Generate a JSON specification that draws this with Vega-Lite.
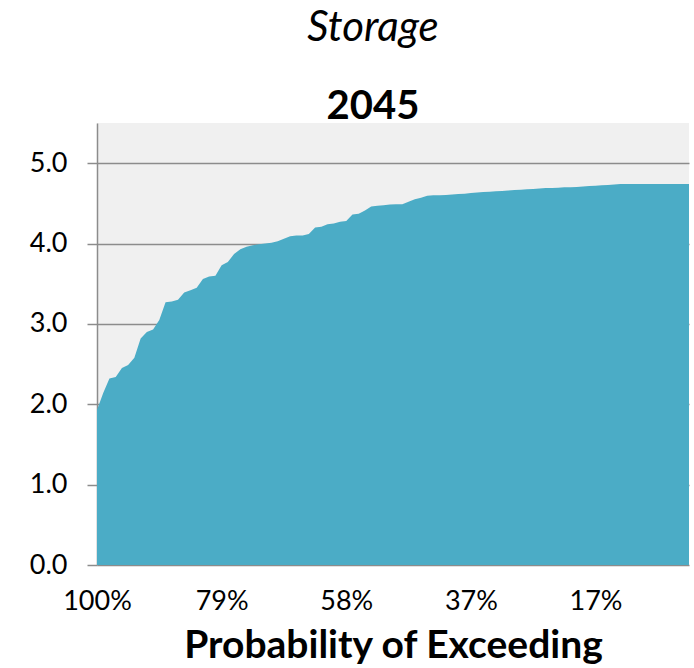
{
  "$schema": "https://vega.github.io/schema/vega-lite/v6.json",
  "width": 592,
  "height": 442,
  "autosize": {"type": "none"},
  "padding": {"left": 97, "top": 123, "right": 5, "bottom": 103},
  "background": "white",
  "config": {
    "font": "Lato",
    "view": {"fill": "#f0f0f0", "stroke": null}
  },
  "title": {
    "text": "Storage",
    "subtitle": "2045",
    "anchor": "middle",
    "frame": "group",
    "dx": -20,
    "offset": -5,
    "fontSize": 42,
    "fontStyle": "italic",
    "fontWeight": "normal",
    "color": "#000000",
    "subtitleFontSize": 40,
    "subtitleFontWeight": "bold",
    "subtitleFontStyle": "normal",
    "subtitleColor": "#000000",
    "subtitlePadding": 37
  },
  "data": {
    "values": [
      {"p": 1.0000, "storage": 1.93},
      {"p": 0.9896, "storage": 2.14},
      {"p": 0.9792, "storage": 2.32},
      {"p": 0.9687, "storage": 2.34},
      {"p": 0.9583, "storage": 2.45},
      {"p": 0.9479, "storage": 2.49},
      {"p": 0.9375, "storage": 2.58},
      {"p": 0.9270, "storage": 2.82},
      {"p": 0.9166, "storage": 2.90},
      {"p": 0.9062, "storage": 2.93},
      {"p": 0.8958, "storage": 3.05},
      {"p": 0.8853, "storage": 3.27},
      {"p": 0.8749, "storage": 3.28},
      {"p": 0.8645, "storage": 3.30},
      {"p": 0.8541, "storage": 3.39},
      {"p": 0.8436, "storage": 3.42},
      {"p": 0.8332, "storage": 3.45},
      {"p": 0.8228, "storage": 3.56},
      {"p": 0.8124, "storage": 3.59},
      {"p": 0.8019, "storage": 3.60},
      {"p": 0.7915, "storage": 3.73},
      {"p": 0.7811, "storage": 3.77},
      {"p": 0.7707, "storage": 3.87},
      {"p": 0.7602, "storage": 3.93},
      {"p": 0.7498, "storage": 3.96},
      {"p": 0.7394, "storage": 3.98},
      {"p": 0.7290, "storage": 3.99},
      {"p": 0.7185, "storage": 4.00},
      {"p": 0.7081, "storage": 4.01},
      {"p": 0.6977, "storage": 4.03},
      {"p": 0.6873, "storage": 4.06},
      {"p": 0.6768, "storage": 4.09},
      {"p": 0.6664, "storage": 4.10},
      {"p": 0.6560, "storage": 4.10},
      {"p": 0.6456, "storage": 4.12},
      {"p": 0.6351, "storage": 4.20},
      {"p": 0.6247, "storage": 4.21},
      {"p": 0.6143, "storage": 4.24},
      {"p": 0.6039, "storage": 4.25},
      {"p": 0.5934, "storage": 4.27},
      {"p": 0.5830, "storage": 4.28},
      {"p": 0.5726, "storage": 4.36},
      {"p": 0.5622, "storage": 4.37},
      {"p": 0.5517, "storage": 4.41},
      {"p": 0.5413, "storage": 4.46},
      {"p": 0.5309, "storage": 4.47},
      {"p": 0.5205, "storage": 4.475},
      {"p": 0.5100, "storage": 4.485},
      {"p": 0.4996, "storage": 4.49},
      {"p": 0.4892, "storage": 4.49},
      {"p": 0.4788, "storage": 4.52},
      {"p": 0.4683, "storage": 4.55},
      {"p": 0.4579, "storage": 4.57},
      {"p": 0.4475, "storage": 4.595},
      {"p": 0.4371, "storage": 4.60},
      {"p": 0.4266, "storage": 4.60},
      {"p": 0.4162, "storage": 4.605},
      {"p": 0.4058, "storage": 4.61},
      {"p": 0.3954, "storage": 4.615},
      {"p": 0.3849, "storage": 4.62},
      {"p": 0.3745, "storage": 4.63},
      {"p": 0.3641, "storage": 4.635},
      {"p": 0.3537, "storage": 4.64},
      {"p": 0.3432, "storage": 4.645},
      {"p": 0.3328, "storage": 4.65},
      {"p": 0.3224, "storage": 4.655},
      {"p": 0.3120, "storage": 4.66},
      {"p": 0.3015, "storage": 4.665},
      {"p": 0.2911, "storage": 4.67},
      {"p": 0.2807, "storage": 4.675},
      {"p": 0.2703, "storage": 4.68},
      {"p": 0.2598, "storage": 4.685},
      {"p": 0.2494, "storage": 4.69},
      {"p": 0.2390, "storage": 4.69},
      {"p": 0.2286, "storage": 4.695},
      {"p": 0.2181, "storage": 4.70},
      {"p": 0.2077, "storage": 4.70},
      {"p": 0.1973, "storage": 4.705},
      {"p": 0.1869, "storage": 4.71},
      {"p": 0.1764, "storage": 4.715},
      {"p": 0.1660, "storage": 4.72},
      {"p": 0.1556, "storage": 4.725},
      {"p": 0.1452, "storage": 4.73},
      {"p": 0.1347, "storage": 4.735},
      {"p": 0.1243, "storage": 4.74},
      {"p": 0.1139, "storage": 4.74},
      {"p": 0.1035, "storage": 4.74},
      {"p": 0.0930, "storage": 4.74},
      {"p": 0.0826, "storage": 4.74},
      {"p": 0.0722, "storage": 4.74},
      {"p": 0.0618, "storage": 4.74},
      {"p": 0.0513, "storage": 4.74},
      {"p": 0.0409, "storage": 4.74},
      {"p": 0.0305, "storage": 4.74},
      {"p": 0.0201, "storage": 4.74},
      {"p": 0.0096, "storage": 4.74}
    ]
  },
  "mark": {"type": "area", "color": "#4bacc6", "interpolate": "linear"},
  "encoding": {
    "x": {
      "field": "p",
      "type": "quantitative",
      "scale": {"domain": [0.0096, 1], "reverse": true, "nice": false, "zero": false},
      "axis": {
        "values": [1, 0.7915, 0.583, 0.3745, 0.166],
        "format": ".0%",
        "ticks": false,
        "domain": false,
        "grid": false,
        "labelFlush": false,
        "labelFontSize": 27,
        "labelColor": "#000000",
        "labelPadding": 23,
        "title": "Probability of Exceeding",
        "titleFontSize": 39,
        "titleFontWeight": "bold",
        "titleColor": "#000000",
        "titlePadding": 12
      }
    },
    "y": {
      "field": "storage",
      "type": "quantitative",
      "scale": {"domain": [0, 5.5], "nice": false},
      "axis": {
        "values": [0, 1, 2, 3, 4, 5],
        "format": ".1f",
        "title": null,
        "grid": true,
        "gridColor": "#8c8c8c",
        "gridWidth": 1.5,
        "domainColor": "#8c8c8c",
        "domainWidth": 1.5,
        "tickColor": "#8c8c8c",
        "tickWidth": 1.5,
        "tickSize": 10,
        "labelFontSize": 27,
        "labelColor": "#000000",
        "labelPadding": 20
      }
    }
  }
}
